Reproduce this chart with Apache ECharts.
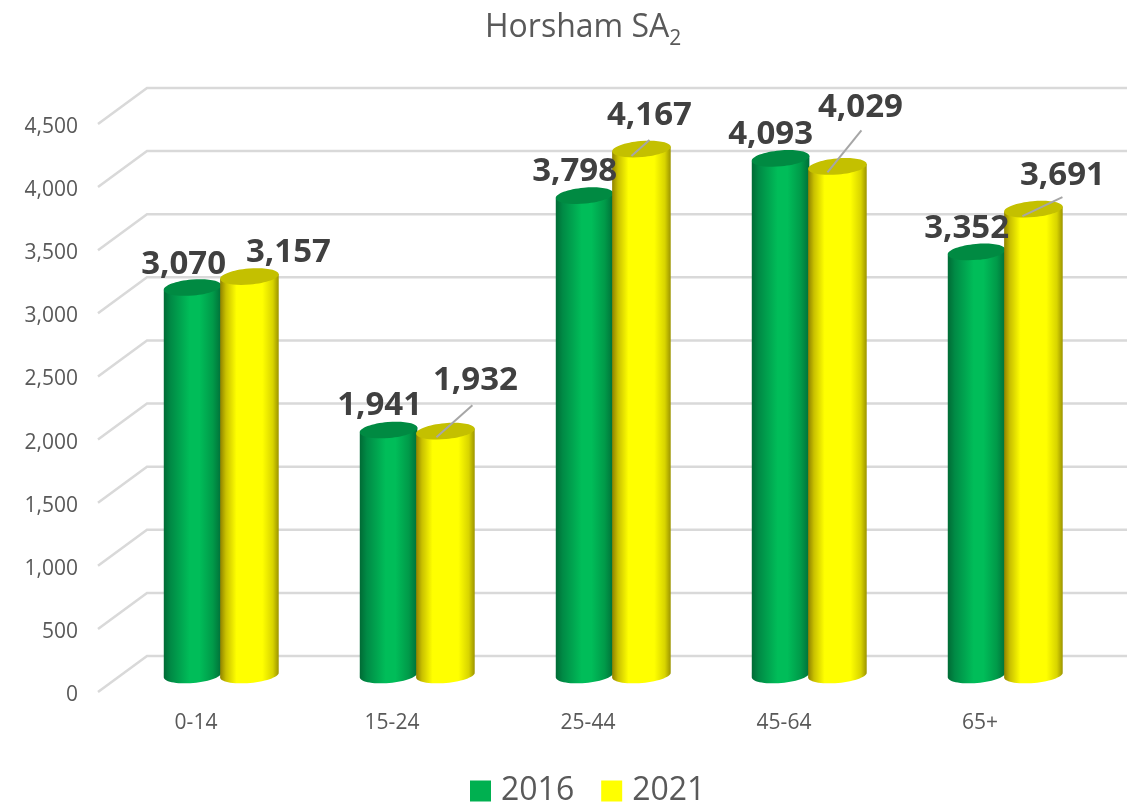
<!DOCTYPE html>
<html>
<head>
<meta charset="utf-8">
<style>html,body{margin:0;padding:0;background:#fff}#c{width:1133px;height:805px}</style>
<script src="https://cdn.jsdelivr.net/npm/echarts@6/dist/echarts.min.js"></script>
</head>
<body>
<div id="c"></div>
<script>
// ---- data ----
var categories = ['0-14', '15-24', '25-44', '45-64', '65+'];
var values2016 = [3070, 1941, 3798, 4093, 3352];
var values2021 = [3157, 1932, 4167, 4029, 3691];
var gridTicks = [0, 500, 1000, 1500, 2000, 2500, 3000, 3500, 4000, 4500];

// ---- manual label placement, relative to the cylinder's top centre ----
var labelShift2016 = [[-9, -23], [-9, -24], [-10, -24], [-10, -24], [-10, -23]];
var labelShift2021 = [[39, -24], [30, -51], [8, -33], [23, -59], [29, -34]];
var leader2021 = [null, [-9, 6, 27, -26], [-10, 7, 8, -9], [-10, 6, 24, -36], [-11, 7, 29, -12]];

// ---- 3D look ----
var WALL_DX = 49, WALL_DY = 36;     // front plane -> back wall
var BAR_DX = 25, BAR_DY = 17;       // front plane -> bar plane
var TILT = 5 * Math.PI / 180, RY = 8;
var fmt = function (v) { return String(v).replace(/\B(?=(\d{3})+$)/g, ','); };

function stops(list) {
  return { type: 'linear', x: 0, y: 0, x2: 1, y2: 0,
    colorStops: list.map(function (s) { return { offset: s[0], color: s[1] }; }) };
}
var greenBody = stops([[0, '#006b35'], [0.12, '#008a45'], [0.45, '#00bd59'], [0.62, '#00bd59'], [0.85, '#009a49'], [1, '#006f38']]);
var yellowBody = stops([[0, '#8f8200'], [0.1, '#c9c000'], [0.28, '#ffff00'], [0.72, '#ffff00'], [0.9, '#d8d400'], [1, '#9c9400']]);

function ellipsePoint(cx, cy, rx, t) {
  var ca = Math.cos(TILT), sa = Math.sin(TILT), c = Math.cos(t), s = Math.sin(t);
  return [cx + rx * c * ca + RY * s * sa, cy - rx * c * sa + RY * s * ca];
}

function cylinder(offsetFrac, widthFrac, bodyFill, capFill, shifts, leaders) {
  return function (params, api) {
    var i = api.value(0), v = api.value(1);
    var band = api.size([1, 0])[0];
    var top = api.coord([i, v]), base = api.coord([i, 0]);
    var cx = top[0] + BAR_DX + band * offsetFrac;
    var rx = band * widthFrac / 2;
    var yTop = top[1] - BAR_DY, yBase = base[1] - BAR_DY;
    var pts = [ellipsePoint(cx, yTop, rx, Math.PI), ellipsePoint(cx, yTop, rx, 0)];
    for (var k = 0; k <= 30; k++) pts.push(ellipsePoint(cx, yBase, rx, Math.PI * k / 30));
    var kids = [
      { type: 'polygon', shape: { points: pts }, style: { fill: bodyFill } },
      { type: 'ellipse', x: cx, y: yTop, rotation: TILT, shape: { cx: 0, cy: 0, rx: rx, ry: RY }, style: { fill: capFill } }
    ];
    var shift = shifts[params.dataIndex];
    kids.push({ type: 'text', z2: 100, x: cx + shift[0], y: yTop + shift[1],
      style: { text: fmt(v), fill: '#404040', font: 'bold 33px "Open Sans"', align: 'center', verticalAlign: 'middle' } });
    var l = leaders && leaders[params.dataIndex];
    if (l) kids.push({ type: 'line', z2: 90, shape: { x1: cx + l[0], y1: yTop + l[1], x2: cx + l[2], y2: yTop + l[3] },
      style: { stroke: '#a6a6a6', lineWidth: 2 } });
    return { type: 'group', children: kids };
  };
}

var option = {
  animation: false,
  backgroundColor: '#fff',
  textStyle: { fontFamily: '"Open Sans"' },
  title: { text: '{a|Horsham SA}{b|2}', left: 485, top: 0, padding: [6, 0, 0, 0],
    textStyle: { fontWeight: 'normal', rich: {
      a: { fontFamily: '"Open Sans"', fontWeight: 'normal', fontSize: 32, color: '#595959', lineHeight: 44, verticalAlign: 'middle' },
      b: { fontFamily: '"Open Sans"', fontWeight: 'normal', fontSize: 21, color: '#595959', lineHeight: 44, verticalAlign: 'bottom' }
    } } },
  legend: { data: ['2016', '2021'], top: 775, left: 470, padding: 0, icon: 'rect', itemWidth: 21, itemHeight: 21, itemGap: 27,
    textStyle: { fontFamily: '"Open Sans"', fontSize: 32, color: '#595959', padding: [0, 0, 0, 5] } },
  grid: { left: 98, top: 124, width: 980, height: 568 },
  xAxis: { type: 'category', data: categories,
    axisLine: { show: false }, axisTick: { show: false },
    axisLabel: { fontSize: 21, color: '#595959', margin: 21 } },
  yAxis: { type: 'value', min: 0, max: 4500, interval: 500,
    axisLine: { show: false }, axisTick: { show: false }, splitLine: { show: false },
    axisLabel: { fontSize: 21, color: '#595959', margin: 20, verticalAlign: 'top', lineHeight: 6, formatter: fmt } },
  series: [
    { type: 'custom', name: 'grid', coordinateSystem: 'cartesian2d', silent: true, z: 1,
      data: gridTicks.map(function (t) { return [0, t]; }),
      renderItem: function (params, api) {
        var y = api.coord([0, api.value(1)])[1], cs = params.coordSys;
        return { type: 'polyline', shape: { points: [[cs.x, y], [cs.x + WALL_DX, y - WALL_DY], [cs.x + cs.width + WALL_DX, y - WALL_DY]] },
          style: { stroke: '#d9d9d9', lineWidth: 2.5, fill: null } };
      } },
    { type: 'custom', name: '2016', coordinateSystem: 'cartesian2d', z: 2, itemStyle: { color: '#00b050' },
      data: values2016.map(function (v, i) { return [i, v]; }), encode: { x: 0, y: 1 },
      renderItem: cylinder(-0.145, 0.295, greenBody, '#008a42', labelShift2016, null) },
    { type: 'custom', name: '2021', coordinateSystem: 'cartesian2d', z: 2, itemStyle: { color: '#ffff00' },
      data: values2021.map(function (v, i) { return [i, v]; }), encode: { x: 0, y: 1 },
      renderItem: cylinder(0.145, 0.3, yellowBody, '#c4c000', labelShift2021, leader2021) }
  ]
};
var chart = echarts.init(document.getElementById('c'), null, { renderer: 'canvas' });
chart.setOption(option);
</script>
</body>
</html>
